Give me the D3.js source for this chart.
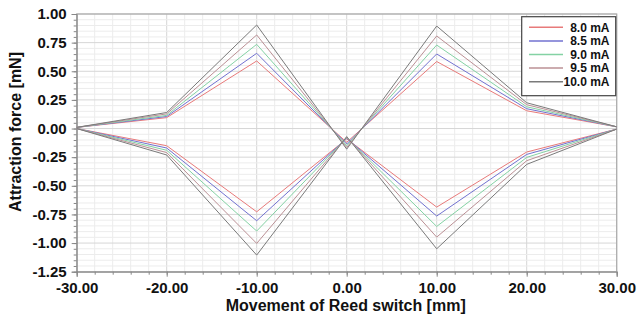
<!DOCTYPE html>
<html><head><meta charset="utf-8">
<script src="https://cdn.jsdelivr.net/npm/d3@7"></script>
<style>body{margin:0;background:#fff}svg{display:block;font-family:"Liberation Sans",Arial,sans-serif}</style>
</head><body><svg id="c" width="637" height="320"></svg>
<script>
const positions = [-30, -20, -10, 0, 10, 20, 30];
const currents = ["8.0 mA", "8.5 mA", "9.0 mA", "9.5 mA", "10.0 mA"];
const colors = ["#e87a7a", "#7272d0", "#84d2a4", "#bb9095", "#7a7a7a"];
const upper80  = [0.01, 0.095, 0.590, -0.120, 0.585, 0.155, 0.015];
const upper85  = [0.01, 0.105, 0.657, -0.135, 0.651, 0.173, 0.015];
const upper90  = [0.01, 0.115, 0.735, -0.150, 0.729, 0.190, 0.015];
const upper95  = [0.01, 0.128, 0.817, -0.165, 0.808, 0.208, 0.015];
const upper100 = [0.01, 0.140, 0.904, -0.180, 0.895, 0.225, 0.015];
const lower80  = [0.00, -0.150, -0.727, -0.090, -0.686, -0.205, -0.005];
const lower85  = [0.00, -0.170, -0.805, -0.085, -0.764, -0.226, -0.005];
const lower90  = [0.00, -0.190, -0.895, -0.080, -0.855, -0.252, -0.005];
const lower95  = [0.00, -0.210, -1.003, -0.075, -0.948, -0.281, -0.005];
const lower100 = [0.00, -0.231, -1.105, -0.070, -1.050, -0.313, -0.005];
const upperSeries = [upper80, upper85, upper90, upper95, upper100];
const lowerSeries = [lower80, lower85, lower90, lower95, lower100];
const xTicks = [-30, -20, -10, 0, 10, 20, 30];
const yTicks = [1.00, 0.75, 0.50, 0.25, 0.00, -0.25, -0.50, -0.75, -1.00, -1.25];

const fmt = d => d3.format(".2f")(d).replace("\u2212", "-");
const svg = d3.select("#c");
const L = 76.7, R = 616.7, T = 14, B = 271.7;
const x = d3.scaleLinear().domain([-30, 30]).range([L, R]);
const y = d3.scaleLinear().domain([-1.25, 1.00]).range([B, T]);

// grid
const g = svg.append("g");
d3.range(-30, 30.001, 2).forEach(v => {
  g.append("line").attr("x1", x(v)).attr("x2", x(v)).attr("y1", T).attr("y2", B)
    .attr("stroke", v % 10 === 0 ? "#d6d6d6" : "#ececec").attr("stroke-width", 1);
});
d3.range(-125, 100.001, 5).forEach(k => {
  const v = k / 100;
  g.append("line").attr("x1", L).attr("x2", R).attr("y1", y(v)).attr("y2", y(v))
    .attr("stroke", k % 25 === 0 ? "#d6d6d6" : "#ececec").attr("stroke-width", 1);
});
// frame
svg.append("rect").attr("x", L).attr("y", T).attr("width", R - L).attr("height", B - T)
  .attr("fill", "none").attr("stroke", "#aaaaaa").attr("stroke-width", 1.2);

// axes
const yAxis = d3.axisLeft(y).tickValues(yTicks).tickFormat(fmt).tickSize(5).tickPadding(5);
const ya = svg.append("g").attr("transform", `translate(${L},0)`).call(yAxis);
const yMinor = d3.axisLeft(y).tickValues(d3.range(-125, 100.001, 5).map(k => k / 100)).tickFormat("").tickSize(3);
svg.append("g").attr("transform", `translate(${L},0)`).call(yMinor).call(s => s.select(".domain").remove());
const xAxis = d3.axisBottom(x).tickValues(xTicks).tickFormat(fmt).tickSize(5).tickPadding(6);
const xa = svg.append("g").attr("transform", `translate(0,${B})`).call(xAxis);
const xMinor = d3.axisBottom(x).tickValues(d3.range(-30, 30.001, 2)).tickFormat("").tickSize(3);
svg.append("g").attr("transform", `translate(0,${B})`).call(xMinor).call(s => s.select(".domain").remove());
svg.selectAll(".tick line").attr("stroke", "#888");
svg.selectAll(".domain").attr("stroke", "#888");
[ya, xa].forEach(a => a.selectAll("text").attr("font-size", 15).attr("font-weight", "bold")
  .attr("fill", "#111").attr("font-family", '"Liberation Sans",Arial,sans-serif'));

// lines
const line = d3.line().x((d, i) => x(positions[i])).y(d => y(d));
currents.forEach((c, i) => {
  svg.append("path").attr("d", line(upperSeries[i])).attr("fill", "none").attr("stroke", colors[i]).attr("stroke-width", 1);
  svg.append("path").attr("d", line(lowerSeries[i])).attr("fill", "none").attr("stroke", colors[i]).attr("stroke-width", 1);
});

// titles
svg.append("text").attr("x", (L + R) / 2 - 1).attr("y", 311).attr("text-anchor", "middle")
  .attr("font-size", 16).attr("font-weight", "bold").attr("fill", "#111").text("Movement of Reed switch [mm]");
svg.append("text").attr("transform", "translate(21,132) rotate(-90)").attr("text-anchor", "middle")
  .attr("font-size", 16).attr("font-weight", "bold").attr("fill", "#111").text("Attraction force [mN]");

// legend
const lg = svg.append("g");
lg.append("rect").attr("x", 521.7).attr("y", 16.7).attr("width", 94).attr("height", 79)
  .attr("fill", "#fff").attr("stroke", "#444").attr("stroke-width", 1.2);
currents.forEach((c, i) => {
  const yy = 27.3 + i * 13.6;
  lg.append("line").attr("x1", 529).attr("x2", 563).attr("y1", yy).attr("y2", yy).attr("stroke", colors[i]).attr("stroke-width", 1.5);
  lg.append("text").attr("x", 609.5).attr("y", yy + 4.3).attr("text-anchor", "end")
    .attr("font-size", 12).attr("font-weight", "bold").attr("fill", "#111").text(c);
});
</script></body></html>
